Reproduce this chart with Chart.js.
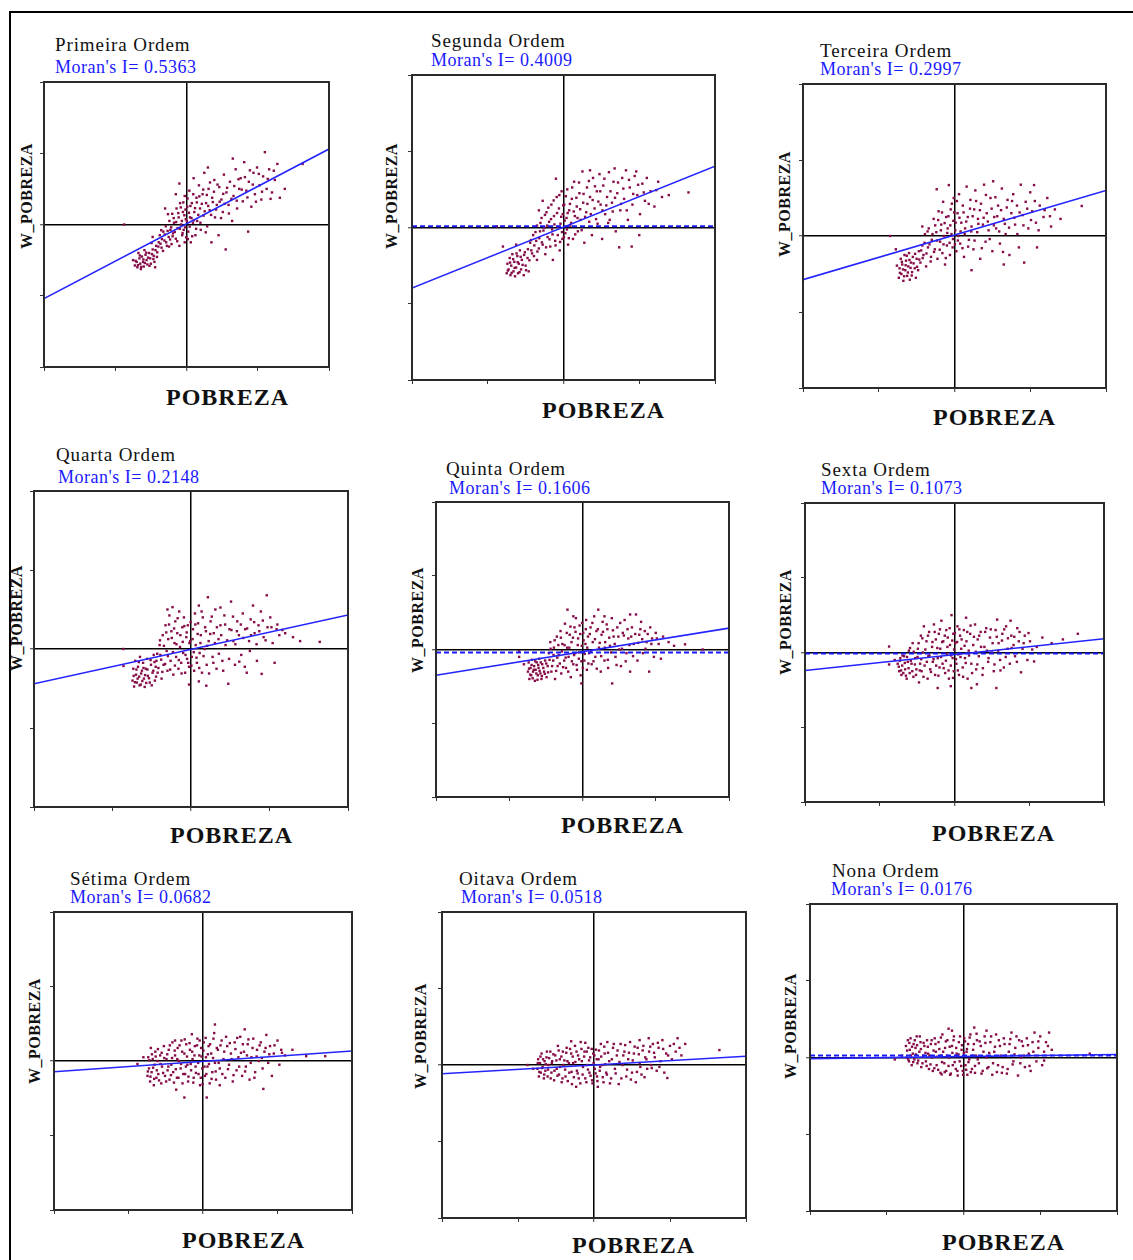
<!DOCTYPE html>
<html>
<head>
<meta charset="utf-8">
<script src="https://cdn.jsdelivr.net/npm/chart.js@4.4.1/dist/chart.umd.min.js"></script>
<style>
  body { margin: 0; background: #fff; width: 1133px; height: 1260px; position: relative; overflow: hidden;
         font-family: "Liberation Serif", "Times New Roman", serif; }
  #frame { position: absolute; left: 9px; top: 11px; width: 1140px; height: 1270px;
           border-top: 2px solid #000; border-left: 2px solid #000; }
  canvas { position: absolute; }
  .t { position: absolute; white-space: nowrap; line-height: 1; }
  .title { font-size: 19px; letter-spacing: 0.9px; color: #111; }
  .moran { font-size: 18px; letter-spacing: 0.5px; color: #1a1aff; }
  .xlab { font-size: 24px; font-weight: bold; letter-spacing: 1px; color: #111; }
  .ylab { font-size: 16px; font-weight: bold; letter-spacing: 0.5px; color: #111;
          transform: translate(-50%, -50%) rotate(-90deg); }
</style>
</head>
<body>
<div id="frame"></div>
<script>
// --- data (POBREZA vs W_POBREZA) ---
const orders = ['Primeira Ordem', 'Segunda Ordem', 'Terceira Ordem', 'Quarta Ordem', 'Quinta Ordem',
                'Sexta Ordem', 'Sétima Ordem', 'Oitava Ordem', 'Nona Ordem'];
const moranI = ['0.5363', '0.4009', '0.2997', '0.2148', '0.1606', '0.1073', '0.0682', '0.0518', '0.0176'];
const AX_MIN = -4, AX_MAX = 4;
// regression line height at the left / right edge of each panel
const fitLeft  = [-2.08, -1.59, -1.15, -0.88, -0.70, -0.48, -0.29, -0.23, -0.03];
const fitRight = [ 2.12,  1.61,  1.20,  0.86,  0.58,  0.37,  0.27,  0.23,  0.08];
// dashed reference line (only some panels have it)
const refLine = [null, 0.03, null, null, -0.08, -0.03, null, null, 0.05];

const ord1Pts = [[-1.45,-1.15],[-1.4,-1.05],[-1.38,-1.2],[-1.32,-0.95],[-1.3,-1.1],[-1.28,-1.25],[-1.25,-0.9],[-1.22,-1.05],[-1.2,-1.18],[-1.15,-0.85],[-1.12,-1.0],[-1.1,-1.12],[-1.05,-0.8],[-1.02,-0.95],[-1.0,-1.1],[-0.95,-0.7],[-0.92,-0.88],[-0.9,-1.05],[-0.85,-0.6],[-0.82,-0.78],[-1.5,-1.0],[-1.35,-0.8],[-1.18,-0.72],[-0.88,-1.2],
  [-0.78,-0.5],[-0.75,-0.3],[-0.7,-0.65],[-0.65,-0.2],[-0.62,-0.45],[-0.58,-0.05],[-0.55,-0.6],[-0.5,-0.35],[-0.48,0.1],[-0.45,-0.15],[-0.42,-0.55],[-0.4,0.3],[-0.38,-0.25],[-0.35,0.05],[-0.3,-0.4],[-0.28,0.45],[-0.25,-0.1],[-0.22,0.2],[-0.2,-0.6],[-0.18,0.6],[-0.15,0.0],[-0.12,-0.3],[-0.1,0.35],[-0.08,-0.15],[-0.05,0.8],[-0.05,-0.5],[-0.02,0.15],[-0.2,1.15],[-0.6,0.45],[-1.75,0.0],[-0.95,-0.35],[-0.3,0.85],
  [0.02,0.5],[0.05,-0.2],[0.08,0.95],[0.1,0.2],[0.12,-0.5],[0.15,0.6],[0.18,0.05],[0.2,1.3],[0.22,0.35],[0.25,-0.3],[0.28,0.75],[0.3,0.1],[0.35,1.1],[0.38,0.45],[0.4,-0.15],[0.45,0.85],[0.48,0.25],[0.5,1.45],[0.55,0.6],[0.58,-0.05],[0.62,1.0],[0.65,0.4],[0.7,-0.5],[0.72,0.75],[0.78,1.25],[0.8,0.2],[0.85,0.55],[0.9,-0.3],[0.92,1.05],[0.98,0.7],[1.02,0.35],[1.05,1.4],[1.1,-0.7],[1.12,0.9],[1.18,0.55],[1.22,1.2],[1.28,0.1],[1.32,0.8],[1.38,1.55],[1.42,0.45],[1.48,1.0],
  [1.52,1.3],[1.58,0.65],[1.62,1.75],[1.68,0.95],[1.73,-0.2],[1.75,1.2],[1.82,0.5],[1.88,1.45],[1.92,0.85],[1.98,1.6],[2.05,1.1],[2.1,0.7],[2.15,1.35],[2.2,2.03],[2.25,1.0],[2.32,1.55],[2.4,0.9],[2.48,1.25],[2.55,1.7],[2.62,0.75],[2.76,1.0],[3.26,1.7],[1.3,1.85],[0.6,1.6]];
const ord1Dense = [[-1.43,-1.02],[-1.36,-1.14],[-1.31,-0.87],[-1.27,-1.19],[-1.21,-0.98],[-1.17,-1.08],[-1.13,-0.79],[-1.08,-0.93],[-1.04,-1.16],[-0.97,-0.83],[-0.93,-0.97],[-0.87,-0.72],[-0.83,-0.91],[-0.79,-0.62],[-0.73,-0.54],[-0.69,-0.41],[-0.66,-0.74],[-0.61,-0.28],[-0.57,-0.5],[-0.53,-0.18],[-0.49,-0.62],[-0.46,-0.42],[-0.43,-0.08],[-0.39,-0.33],[-0.36,0.18],[-0.33,-0.21],[-0.29,0.07],[-0.26,-0.47],[-0.23,0.32],[-0.19,-0.12],[-0.16,0.48],[-0.13,0.1],[-0.11,-0.24],[-0.09,0.62],[-0.06,0.26],[-0.04,-0.08],[-0.03,0.42],[-0.01,-0.36],[0.01,0.09],[0.03,0.73],[0.04,-0.41],[0.07,0.33],[0.09,-0.06],[0.11,0.52],[0.14,0.18],[0.16,-0.33],[0.19,0.85],[0.21,0.12],[0.24,0.46],[0.27,-0.12],[0.29,0.62],[0.33,0.27],[0.36,0.79],[0.39,0.05],[0.43,0.58],[0.47,0.98],[0.51,0.37],[0.54,-0.22],[0.57,0.83],[0.61,0.52],[0.66,1.18],[0.69,0.27],[0.74,0.63],[0.77,0.92],[0.83,0.42],[0.87,1.12],[0.93,0.64],[0.97,0.18],[1.03,0.86],[1.07,0.58],[1.14,1.03],[1.19,0.31],[1.26,0.72],[1.34,1.08],[1.41,0.67],[1.46,1.27],[1.55,0.98],[1.64,1.33],[1.71,0.76],[1.78,1.52],[1.86,1.12],[1.95,0.64],[2.03,1.42],[2.12,0.92],[2.28,1.28],[2.36,0.72],[2.45,1.51],[-0.52,0.29],[-0.71,-0.16],[-0.98,-0.52]];

const ord2Pts = [[-1.5,-1.2],[-1.48,-0.95],[-1.45,-1.1],[-1.42,-0.8],[-1.4,-1.25],[-1.38,-1.0],[-1.35,-0.7],[-1.32,-1.15],[-1.3,-0.9],[-1.28,-1.28],[-1.25,-1.05],[-1.22,-0.75],[-1.2,-1.2],[-1.18,-0.95],[-1.15,-0.6],[-1.12,-1.1],[-1.1,-0.85],[-1.05,-1.25],[-1.02,-0.65],[-1.0,-1.0],[-0.95,-0.8],[-0.92,-1.15],[-1.76,0.03],[-1.6,-0.5],
  [-0.88,-0.4],[-0.85,-0.6],[-0.8,-0.2],[-0.78,-0.75],[-0.72,-0.35],[-0.7,0.05],[-0.65,-0.55],[-0.62,-0.1],[-0.58,0.25],[-0.55,-0.45],[-0.5,0.0],[-0.48,-0.7],[-0.45,0.4],[-0.42,-0.25],[-0.38,0.15],[-0.35,-0.5],[-0.32,0.6],[-0.3,-0.05],[-0.25,0.3],[-0.22,-0.35],[-0.2,1.28],[-0.18,0.8],[-0.15,-0.2],[-0.12,0.5],[-0.1,-0.6],[-0.08,0.1],[-0.05,0.95],[-0.03,-0.3],[-0.02,0.35],[-0.55,0.7],[-0.7,-0.85],[-0.28,-0.85],
  [0.02,0.6],[0.05,-0.15],[0.08,0.25],[0.1,1.0],[0.12,-0.45],[0.15,0.45],[0.18,0.05],[0.22,0.75],[0.25,-0.3],[0.28,1.2],[0.3,0.3],[0.35,0.55],[0.38,-0.1],[0.42,0.9],[0.45,0.2],[0.5,1.47],[0.52,0.65],[0.55,-0.4],[0.6,0.4],[0.62,1.05],[0.68,0.15],[0.7,0.8],[0.75,-0.2],[0.78,1.3],[0.82,0.5],[0.88,0.95],[0.9,0.1],[0.95,1.4],[0.98,0.6],[1.02,-0.3],[1.05,1.1],[1.1,0.35],[1.15,0.8],[1.2,1.45],[1.22,0.2],[1.28,0.65],[1.32,1.2],[1.38,-0.1],[1.42,0.9],[1.47,-0.52],
  [1.5,0.45],[1.55,1.3],[1.6,0.75],[1.65,1.5],[1.7,0.2],[1.75,1.05],[1.8,-0.5],[1.82,0.6],[1.88,1.35],[1.92,1.47],[1.95,0.85],[2.02,0.35],[2.08,1.15],[2.15,0.7],[2.2,1.3],[2.3,0.95],[2.4,0.55],[2.5,1.2],[2.6,0.8],[2.78,0.85],[3.3,0.92],[2.0,-0.2],[1.35,1.55],[0.7,1.5]];
const ord2Dense = [[-1.47,-1.13],[-1.41,-0.92],[-1.37,-1.19],[-1.33,-0.83],[-1.29,-1.06],[-1.24,-0.68],[-1.21,-0.91],[-1.16,-1.17],[-1.13,-0.77],[-1.08,-0.98],[-1.04,-0.72],[-0.99,-1.12],[-0.94,-0.57],[-0.9,-0.86],[-0.86,-0.33],[-0.83,-0.68],[-0.77,-0.47],[-0.74,-0.12],[-0.69,-0.63],[-0.64,-0.28],[-0.61,0.12],[-0.57,-0.39],[-0.53,-0.08],[-0.49,0.33],[-0.46,-0.52],[-0.43,0.05],[-0.4,0.52],[-0.37,-0.31],[-0.33,0.22],[-0.29,-0.18],[-0.26,0.71],[-0.24,0.08],[-0.21,-0.47],[-0.17,0.38],[-0.14,0.02],[-0.11,0.85],[-0.09,-0.38],[-0.06,0.28],[-0.04,-0.12],[-0.01,0.58],[0.01,-0.25],[0.03,0.18],[0.06,0.82],[0.09,-0.05],[0.11,0.38],[0.14,-0.28],[0.17,0.62],[0.2,0.12],[0.23,1.05],[0.27,0.42],[0.31,-0.18],[0.34,0.78],[0.37,0.25],[0.41,1.18],[0.44,0.48],[0.48,-0.07],[0.53,0.88],[0.57,0.28],[0.63,0.62],[0.67,1.22],[0.72,0.35],[0.77,0.72],[0.83,1.08],[0.86,0.22],[0.92,0.68],[0.97,0.95],[1.03,0.45],[1.08,1.28],[1.13,0.58],[1.18,0.12],[1.24,0.95],[1.3,0.42],[1.36,0.78],[1.44,1.18],[1.52,0.62],[1.58,1.02],[1.67,0.45],[1.73,1.25],[1.84,0.88],[1.97,1.12],[2.12,0.92],[2.25,0.62],[2.45,0.98],[-0.65,0.45],[-1.25,-0.45]];

const ord3Pts = [[-1.47,-1.1],[-1.45,-0.85],[-1.42,-0.6],[-1.4,-1.0],[-1.38,-0.75],[-1.35,-1.18],[-1.32,-0.5],[-1.3,-0.9],[-1.28,-0.65],[-1.25,-1.05],[-1.22,-0.8],[-1.2,-0.45],[-1.18,-1.15],[-1.15,-0.7],[-1.12,-0.95],[-1.1,-0.55],[-1.05,-0.85],[-1.02,-1.1],[-1.0,-0.6],[-0.96,-0.9],[-0.94,-0.4],[-1.7,0.0],[-1.55,-0.35],
  [-0.9,-0.7],[-0.85,-0.25],[-0.82,-0.5],[-0.78,0.05],[-0.75,-0.8],[-0.7,-0.3],[-0.68,0.2],[-0.62,-0.55],[-0.6,-0.1],[-0.55,0.45],[-0.52,-0.35],[-0.48,0.1],[-0.47,1.23],[-0.45,-0.6],[-0.42,0.65],[-0.38,-0.15],[-0.35,0.3],[-0.32,-0.45],[-0.3,0.9],[-0.28,0.0],[-0.25,-0.75],[-0.22,0.5],[-0.2,-0.25],[-0.18,0.2],[-0.15,1.34],[-0.12,-0.5],[-0.1,0.7],[-0.08,0.05],[-0.05,-0.3],[-0.03,0.4],[-0.02,1.0],
  [0.02,0.15],[0.05,-0.4],[0.08,0.6],[0.1,0.0],[0.12,1.1],[0.15,-0.2],[0.18,0.35],[0.22,0.8],[0.25,-0.55],[0.28,0.2],[0.32,1.3],[0.35,0.5],[0.38,-0.1],[0.42,0.95],[0.45,0.25],[0.5,-0.35],[0.52,0.7],[0.55,1.2],[0.6,0.1],[0.62,0.45],[0.68,-0.6],[0.7,0.85],[0.75,0.3],[0.78,1.35],[0.82,-0.15],[0.85,0.6],[0.9,0.15],[0.95,1.0],[1.0,-0.4],[1.02,1.44],[1.05,0.5],[1.1,0.2],[1.15,0.8],[1.2,-0.2],[1.25,1.25],[1.3,0.45],[1.35,0.05],[1.4,0.95],[1.45,-0.5],[1.5,0.6],
  [1.55,1.1],[1.6,0.3],[1.65,0.8],[1.7,-0.3],[1.75,1.35],[1.8,0.55],[1.84,-0.7],[1.88,0.9],[1.95,0.2],[2.0,1.15],[2.05,0.65],[2.1,1.34],[2.15,0.35],[2.18,-0.3],[2.25,0.8],[2.35,0.5],[2.45,1.0],[2.55,0.25],[2.65,0.7],[2.8,0.45],[3.36,0.79],[1.3,-0.75],[0.45,-0.9]];
const ord3Dense = [[-1.44,-0.97],[-1.39,-0.68],[-1.36,-0.88],[-1.33,-1.06],[-1.29,-0.77],[-1.26,-0.52],[-1.23,-0.96],[-1.19,-0.63],[-1.16,-0.84],[-1.13,-1.04],[-1.08,-0.72],[-1.04,-0.47],[-0.99,-0.81],[-0.93,-0.62],[-0.88,-0.38],[-0.84,-0.58],[-0.79,-0.18],[-0.74,-0.46],[-0.71,0.12],[-0.66,-0.22],[-0.63,-0.67],[-0.58,0.05],[-0.54,-0.42],[-0.51,0.28],[-0.46,-0.12],[-0.43,0.42],[-0.39,-0.36],[-0.36,0.15],[-0.33,0.62],[-0.29,-0.22],[-0.26,0.34],[-0.23,-0.58],[-0.19,0.08],[-0.16,0.52],[-0.13,-0.18],[-0.11,0.28],[-0.07,0.85],[-0.04,-0.08],[-0.01,0.62],[0.01,-0.22],[0.03,0.35],[0.06,0.92],[0.09,-0.12],[0.13,0.48],[0.16,0.12],[0.21,-0.32],[0.24,0.62],[0.27,0.05],[0.31,0.38],[0.36,-0.28],[0.41,0.72],[0.44,0.12],[0.48,0.52],[0.53,-0.12],[0.57,0.92],[0.63,0.32],[0.67,0.68],[0.72,-0.32],[0.77,0.48],[0.83,1.08],[0.88,0.38],[0.93,-0.08],[0.98,0.72],[1.04,0.28],[1.08,1.02],[1.13,0.52],[1.18,0.12],[1.23,0.68],[1.28,-0.42],[1.33,0.32],[1.38,0.75],[1.44,0.22],[1.52,0.92],[1.58,0.48],[1.66,0.05],[1.72,0.62],[1.82,0.28],[1.92,0.72],[2.02,0.42],[2.12,0.92],[2.22,0.15],[2.38,0.68],[2.52,0.52],[-1.52,-0.78],[-0.85,0.25]];

const ord4Pts = [[-1.49,-0.8],[-1.47,-0.5],[-1.45,-0.95],[-1.42,-0.3],[-1.4,-0.65],[-1.38,-0.85],[-1.35,-0.45],[-1.32,-0.7],[-1.3,-0.2],[-1.28,-0.9],[-1.25,-0.55],[-1.22,-0.35],[-1.2,-0.75],[-1.18,-0.96],[-1.15,-0.5],[-1.12,-0.25],[-1.1,-0.68],[-1.05,-0.85],[-1.02,-0.4],[-0.98,-0.6],[-0.95,-0.15],[-0.92,-0.8],[-0.9,-0.45],[-1.72,0.0],[-1.72,-0.43],
  [-0.88,-0.3],[-0.85,-0.6],[-0.8,0.1],[-0.78,-0.15],[-0.75,-0.75],[-0.72,0.35],[-0.7,-0.4],[-0.65,0.6],[-0.62,-0.05],[-0.6,-0.55],[-0.58,0.25],[-0.55,0.85],[-0.52,-0.3],[-0.5,0.45],[-0.47,1.06],[-0.45,-0.65],[-0.42,0.15],[-0.4,0.7],[-0.38,-0.2],[-0.35,0.4],[-0.32,-0.5],[-0.3,0.95],[-0.28,0.05],[-0.25,-0.35],[-0.22,0.55],[-0.2,-0.1],[-0.18,0.8],[-0.15,-0.6],[-0.12,0.3],[-0.1,-0.25],[-0.08,0.6],[-0.05,-0.45],[-0.05,-0.9],[-0.02,0.2],
  [0.02,-0.2],[0.05,0.5],[0.08,-0.55],[0.1,0.9],[0.12,0.1],[0.15,-0.35],[0.18,0.65],[0.2,1.1],[0.22,-0.1],[0.25,0.35],[0.28,-0.6],[0.3,0.8],[0.35,0.0],[0.38,0.45],[0.4,-0.4],[0.43,1.31],[0.45,0.2],[0.39,-0.93],[0.5,0.7],[0.55,-0.2],[0.58,0.4],[0.62,1.0],[0.65,-0.5],[0.7,0.25],[0.75,0.6],[0.8,-0.3],[0.85,0.85],[0.88,0.1],[0.95,-0.88],[0.98,0.5],[1.02,1.2],[1.08,0.2],[1.12,-0.4],[1.18,0.7],[1.22,0.35],[1.28,-0.15],[1.32,0.9],[1.38,0.5],[1.42,-0.6],[1.48,0.2],
  [1.52,0.75],[1.58,1.1],[1.62,0.4],[1.68,-0.3],[1.72,0.6],[1.78,0.95],[1.8,-0.63],[1.85,0.3],[1.93,1.36],[1.95,0.55],[2.02,0.8],[2.08,0.15],[2.13,-0.35],[2.18,0.5],[2.25,0.35],[2.4,0.4],[2.6,0.3],[2.78,0.2],[3.28,0.18],[1.5,-0.05],[0.75,1.05]];
const ord4Dense = [[-1.46,-0.68],[-1.43,-0.84],[-1.39,-0.52],[-1.36,-0.75],[-1.33,-0.33],[-1.31,-0.92],[-1.27,-0.62],[-1.24,-0.81],[-1.21,-0.48],[-1.17,-0.66],[-1.14,-0.86],[-1.11,-0.52],[-1.07,-0.74],[-1.03,-0.28],[-1.0,-0.92],[-0.96,-0.55],[-0.93,-0.33],[-0.89,-0.7],[-0.86,-0.12],[-0.83,-0.48],[-0.79,0.22],[-0.76,-0.27],[-0.73,-0.58],[-0.69,0.08],[-0.66,-0.38],[-0.63,0.42],[-0.59,-0.18],[-0.56,0.62],[-0.53,-0.52],[-0.49,0.28],[-0.46,-0.08],[-0.43,0.52],[-0.41,-0.42],[-0.37,0.12],[-0.34,0.78],[-0.31,-0.28],[-0.27,0.35],[-0.24,-0.62],[-0.21,0.18],[-0.17,0.58],[-0.14,-0.15],[-0.11,0.42],[-0.07,-0.35],[-0.04,0.15],[-0.01,0.68],[0.01,-0.42],[0.04,0.25],[0.07,-0.08],[0.11,0.62],[0.14,-0.22],[0.17,0.38],[0.21,-0.48],[0.24,0.15],[0.27,0.95],[0.32,-0.18],[0.36,0.55],[0.41,0.08],[0.46,-0.62],[0.49,0.38],[0.53,0.82],[0.57,-0.35],[0.61,0.15],[0.66,0.55],[0.71,-0.12],[0.77,0.35],[0.82,-0.55],[0.87,0.62],[0.92,0.22],[0.97,-0.25],[1.03,0.48],[1.07,0.82],[1.13,0.12],[1.17,0.45],[1.23,-0.32],[1.27,0.62],[1.33,0.28],[1.37,-0.45],[1.43,0.52],[1.53,0.35],[1.61,0.68],[1.67,0.12],[1.74,0.45],[1.83,0.72],[1.9,0.22],[2.05,0.55],[2.2,0.62],[2.33,0.48],[-0.6,1.0],[0.2,-0.82]];

const ord5Pts = [[-1.49,-0.6],[-1.47,-0.35],[-1.45,-0.8],[-1.42,-0.5],[-1.4,-0.7],[-1.38,-0.28],[-1.35,-0.6],[-1.32,-0.45],[-1.3,-0.85],[-1.28,-0.55],[-1.25,-0.35],[-1.22,-0.7],[-1.2,-0.5],[-1.18,-0.25],[-1.15,-0.65],[-1.12,-0.8],[-1.1,-0.4],[-1.05,-0.6],[-1.02,-0.3],[-0.98,-0.75],[-1.73,-0.05],[-1.73,-0.2],[-1.6,-0.4],
  [-0.95,-0.45],[-0.92,-0.1],[-0.88,0.2],[-0.85,-0.6],[-0.8,-0.3],[-0.78,0.05],[-0.75,-0.8],[-0.7,0.35],[-0.68,-0.45],[-0.65,-0.15],[-0.6,0.5],[-0.58,-0.65],[-0.55,0.15],[-0.5,-0.3],[-0.48,0.7],[-0.45,-0.5],[-0.42,0.05],[-0.41,1.08],[-0.38,-0.2],[-0.35,0.4],[-0.32,-0.75],[-0.3,0.2],[-0.25,-0.4],[-0.22,0.6],[-0.2,-0.1],[-0.18,0.85],[-0.15,-0.55],[-0.12,0.3],[-0.1,-0.25],[-0.08,0.65],[-0.05,-0.7],[-0.03,-0.92],[-0.02,0.1],
  [0.02,0.45],[0.05,-0.3],[0.08,0.15],[0.1,0.8],[0.12,-0.55],[0.15,0.35],[0.18,-0.1],[0.22,0.6],[0.25,-0.4],[0.28,0.2],[0.32,0.9],[0.35,-0.2],[0.38,0.5],[0.43,1.08],[0.45,0.05],[0.5,-0.6],[0.52,0.4],[0.55,0.75],[0.6,-0.3],[0.62,0.2],[0.68,0.55],[0.7,-0.5],[0.75,0.1],[0.8,0.85],[0.81,-0.92],[0.85,0.35],[0.9,-0.2],[0.95,0.6],[1.0,0.0],[1.05,-0.45],[1.1,0.45],[1.15,0.8],[1.2,-0.1],[1.25,0.3],[1.3,-0.6],[1.35,0.6],[1.4,0.15],[1.46,0.95],[1.5,-0.3],
  [1.55,0.4],[1.6,0.75],[1.65,-0.1],[1.7,0.5],[1.75,0.2],[1.82,-0.6],[1.85,0.6],[1.9,0.3],[1.95,-0.2],[2.0,0.45],[2.08,0.15],[2.14,-0.25],[2.2,0.35],[2.35,0.2],[2.5,0.1],[2.8,0.14],[3.28,0.0],[1.3,0.95]];
const ord5Dense = [[-1.46,-0.52],[-1.43,-0.68],[-1.39,-0.42],[-1.36,-0.78],[-1.33,-0.55],[-1.29,-0.32],[-1.26,-0.65],[-1.23,-0.82],[-1.21,-0.42],[-1.17,-0.58],[-1.14,-0.35],[-1.11,-0.72],[-1.07,-0.5],[-1.03,-0.66],[-0.99,-0.38],[-0.94,-0.62],[-0.9,-0.28],[-0.87,0.02],[-0.83,-0.45],[-0.79,-0.15],[-0.76,0.25],[-0.72,-0.58],[-0.69,-0.22],[-0.66,0.12],[-0.62,-0.38],[-0.59,0.32],[-0.56,-0.05],[-0.53,-0.48],[-0.49,0.12],[-0.46,-0.22],[-0.43,0.45],[-0.39,-0.6],[-0.36,0.05],[-0.33,0.62],[-0.29,-0.32],[-0.26,0.32],[-0.23,-0.15],[-0.19,0.48],[-0.16,-0.42],[-0.13,0.12],[-0.09,-0.08],[-0.06,0.42],[-0.03,-0.32],[-0.01,0.72],[0.01,-0.5],[0.03,0.25],[0.06,-0.12],[0.09,0.55],[0.13,0.05],[0.16,-0.38],[0.2,0.42],[0.23,-0.05],[0.27,0.72],[0.3,-0.32],[0.34,0.28],[0.39,-0.52],[0.42,0.55],[0.47,0.18],[0.51,-0.18],[0.56,0.48],[0.61,0.05],[0.66,0.68],[0.69,-0.28],[0.73,0.32],[0.78,-0.08],[0.83,0.52],[0.88,0.15],[0.93,-0.42],[0.98,0.35],[1.03,0.72],[1.08,0.02],[1.13,0.38],[1.18,-0.32],[1.23,0.55],[1.28,0.12],[1.33,0.35],[1.38,-0.18],[1.44,0.42],[1.52,0.18],[1.58,0.55],[1.63,0.28],[1.72,0.02],[1.78,0.42],[1.88,0.15],[2.03,0.3],[-0.25,0.9],[0.6,0.9]];

const ord6Pts = [[-1.52,-0.3],[-1.48,-0.5],[-1.45,-0.15],[-1.42,-0.6],[-1.4,-0.35],[-1.35,-0.1],[-1.32,-0.45],[-1.28,-0.7],[-1.25,-0.25],[-1.22,0.05],[-1.2,-0.55],[-1.15,-0.3],[-1.12,0.25],[-1.1,-0.65],[-1.05,-0.15],[-1.02,-0.45],[-0.98,0.1],[-0.95,-0.8],[-0.92,-0.3],[-0.9,0.45],[-1.75,0.16],[-1.75,-0.32],[-1.6,-0.2],
  [-0.88,-0.5],[-0.85,0.0],[-0.82,0.7],[-0.8,-0.35],[-0.75,0.3],[-0.72,-0.7],[-0.7,-0.1],[-0.68,0.55],[-0.65,-0.45],[-0.6,0.15],[-0.58,-0.25],[-0.55,0.75],[-0.52,-0.6],[-0.5,0.35],[-0.45,-0.95],[-0.45,-0.15],[-0.42,0.5],[-0.4,-0.4],[-0.38,0.1],[-0.35,0.85],[-0.32,-0.3],[-0.3,0.3],[-0.25,-0.55],[-0.22,0.6],[-0.2,-0.05],[-0.18,0.4],[-0.15,-0.7],[-0.12,0.2],[-0.1,-0.35],[-0.08,1.0],[-0.05,-0.15],[-0.03,0.5],[-0.02,-0.5],
  [0.02,0.25],[0.05,-0.3],[0.08,0.7],[0.1,-0.05],[0.12,-0.6],[0.15,0.45],[0.18,0.1],[0.22,-0.4],[0.25,0.6],[0.28,-0.15],[0.31,0.93],[0.32,0.3],[0.35,-0.7],[0.38,0.05],[0.42,0.5],[0.45,-0.95],[0.45,-0.3],[0.5,0.2],[0.55,0.75],[0.58,-0.45],[0.62,0.35],[0.65,-0.1],[0.7,0.55],[0.75,-0.6],[0.8,0.15],[0.85,0.65],[0.9,-0.25],[0.95,0.4],[1.0,0.0],[1.05,-0.5],[1.1,0.6],[1.14,0.88],[1.12,-0.95],[1.18,0.25],[1.22,-0.2],[1.28,0.5],[1.32,-0.4],[1.38,0.7],[1.42,0.1],[1.48,-0.3],
  [1.52,0.45],[1.58,0.2],[1.62,-0.1],[1.68,0.65],[1.72,0.3],[1.78,-0.53],[1.82,0.1],[1.88,0.45],[1.95,-0.2],[2.02,0.3],[2.13,-0.24],[2.2,0.15],[2.35,0.4],[2.6,0.25],[3.3,0.5],[1.5,0.85],[2.9,0.35]];
const ord6Dense = [[-1.49,-0.38],[-1.46,-0.22],[-1.43,-0.48],[-1.39,-0.08],[-1.37,-0.55],[-1.33,-0.28],[-1.3,-0.62],[-1.27,-0.12],[-1.23,-0.42],[-1.19,0.12],[-1.17,-0.22],[-1.13,-0.5],[-1.09,0.02],[-1.06,-0.32],[-1.03,-0.6],[-0.99,-0.12],[-0.96,0.25],[-0.93,-0.48],[-0.89,-0.18],[-0.86,0.38],[-0.83,-0.65],[-0.78,0.08],[-0.74,-0.25],[-0.71,0.45],[-0.67,-0.08],[-0.63,-0.52],[-0.59,0.28],[-0.56,-0.18],[-0.53,0.55],[-0.49,-0.35],[-0.46,0.12],[-0.43,-0.62],[-0.39,0.62],[-0.36,-0.12],[-0.33,0.28],[-0.29,-0.42],[-0.26,0.45],[-0.23,-0.22],[-0.19,0.15],[-0.16,-0.48],[-0.13,0.65],[-0.09,-0.08],[-0.06,0.32],[-0.04,-0.68],[-0.01,0.08],[0.01,0.52],[0.04,-0.18],[0.07,0.28],[0.09,-0.48],[0.13,0.62],[0.16,-0.12],[0.19,0.35],[0.23,-0.65],[0.27,0.18],[0.3,-0.28],[0.34,0.55],[0.39,-0.08],[0.43,0.72],[0.47,-0.55],[0.52,0.42],[0.57,0.02],[0.61,-0.32],[0.66,0.45],[0.71,0.15],[0.76,-0.42],[0.82,0.55],[0.87,0.05],[0.91,-0.15],[0.97,0.62],[1.02,0.25],[1.07,-0.32],[1.13,0.42],[1.17,0.05],[1.23,-0.48],[1.27,0.32],[1.33,0.62],[1.37,-0.12],[1.43,0.38],[1.53,0.12],[1.6,0.42],[1.67,-0.25],[1.74,0.55],[1.85,0.25],[1.98,0.52],[2.08,0.08],[-0.1,-0.9],[0.6,-0.85]];

const ord7Pts = [[-1.49,-0.4],[-1.47,0.1],[-1.45,-0.2],[-1.42,-0.55],[-1.4,0.35],[-1.38,-0.3],[-1.35,0.05],[-1.32,-0.65],[-1.3,-0.1],[-1.28,0.25],[-1.25,-0.45],[-1.22,0.0],[-1.2,-0.35],[-1.15,0.15],[-1.12,-0.6],[-1.1,-0.15],[-1.05,0.4],[-1.02,-0.4],[-0.98,0.05],[-0.95,-0.25],[-1.76,-0.08],[-1.6,0.1],
  [-0.92,0.3],[-0.9,-0.5],[-0.85,-0.1],[-0.82,0.5],[-0.8,-0.3],[-0.75,0.15],[-0.72,-0.77],[-0.7,-0.45],[-0.68,0.35],[-0.65,0.0],[-0.6,-0.2],[-0.58,0.55],[-0.55,-0.6],[-0.5,-0.98],[-0.5,0.2],[-0.48,-0.35],[-0.45,0.45],[-0.42,-0.1],[-0.4,-0.55],[-0.35,0.3],[-0.32,-0.25],[-0.3,0.72],[-0.28,0.05],[-0.25,-0.45],[-0.22,0.4],[-0.2,-0.15],[-0.15,0.6],[-0.12,-0.35],[-0.1,0.15],[-0.08,-0.65],[-0.05,0.35],[-0.02,-0.2],
  [0.02,0.5],[0.05,-0.4],[0.08,0.1],[0.1,-0.98],[0.12,-0.15],[0.15,0.4],[0.18,-0.6],[0.22,0.2],[0.25,-0.3],[0.28,0.6],[0.32,0.98],[0.32,-0.05],[0.35,-0.5],[0.4,0.3],[0.45,-0.2],[0.5,0.55],[0.55,0.05],[0.6,-0.45],[0.65,0.4],[0.7,-0.1],[0.75,0.2],[0.8,-0.55],[0.85,0.5],[0.9,-0.25],[0.95,0.1],[1.0,0.65],[1.05,-0.4],[1.12,0.85],[1.1,0.25],[1.15,-0.15],[1.2,0.45],[1.25,-0.5],[1.3,0.1],[1.35,0.6],[1.4,-0.3],[1.45,0.3],[1.5,0.0],
  [1.55,0.5],[1.6,-0.2],[1.65,0.25],[1.7,0.7],[1.75,-0.05],[1.8,0.4],[1.85,-0.4],[1.9,0.2],[2.0,0.55],[2.05,-0.1],[2.1,0.3],[2.2,0.15],[2.4,0.3],[2.77,0.13],[3.28,0.13],[1.62,-0.75]];
const ord7Dense = [[-1.48,-0.28],[-1.44,0.02],[-1.41,-0.42],[-1.37,0.18],[-1.34,-0.18],[-1.31,-0.48],[-1.27,0.12],[-1.24,-0.25],[-1.21,0.32],[-1.18,-0.52],[-1.14,-0.08],[-1.11,0.22],[-1.07,-0.32],[-1.04,0.08],[-0.99,-0.55],[-0.96,0.18],[-0.93,-0.15],[-0.89,0.42],[-0.86,-0.38],[-0.83,0.08],[-0.78,-0.58],[-0.76,0.28],[-0.73,-0.22],[-0.69,0.05],[-0.66,-0.45],[-0.63,0.42],[-0.59,-0.08],[-0.56,0.25],[-0.53,-0.35],[-0.49,0.58],[-0.46,-0.15],[-0.43,0.12],[-0.39,-0.42],[-0.36,0.48],[-0.33,-0.08],[-0.29,0.25],[-0.26,-0.58],[-0.23,0.15],[-0.19,-0.32],[-0.16,0.42],[-0.13,-0.05],[-0.09,0.55],[-0.06,-0.45],[-0.04,0.12],[-0.01,-0.62],[0.01,0.28],[0.04,-0.15],[0.07,0.62],[0.09,-0.35],[0.13,0.18],[0.16,-0.08],[0.19,0.45],[0.23,-0.48],[0.27,0.08],[0.3,0.75],[0.34,-0.28],[0.37,0.35],[0.42,-0.05],[0.47,0.42],[0.52,-0.35],[0.57,0.25],[0.62,0.65],[0.67,-0.22],[0.72,0.48],[0.77,0.05],[0.82,-0.38],[0.87,0.32],[0.92,0.62],[0.97,-0.15],[1.02,0.22],[1.07,0.45],[1.13,-0.28],[1.18,0.15],[1.22,0.58],[1.28,-0.05],[1.33,0.35],[1.38,-0.45],[1.44,0.12],[1.52,0.42],[1.58,0.08],[1.68,0.35],[1.78,0.18],[1.92,0.42],[2.12,0.22],[-0.75,0.55],[0.45,-0.65]];

const ord8Pts = [[-1.49,-0.1],[-1.47,0.15],[-1.45,-0.3],[-1.42,0.05],[-1.4,-0.2],[-1.38,0.3],[-1.35,-0.05],[-1.32,-0.35],[-1.3,0.1],[-1.28,-0.15],[-1.25,0.2],[-1.22,-0.3],[-1.2,0.0],[-1.15,0.35],[-1.12,-0.2],[-1.1,0.1],[-1.05,-0.4],[-1.02,0.25],[-0.98,-0.1],[-0.95,0.5],[-1.75,0.0],[-1.6,-0.1],
  [-0.92,-0.25],[-0.9,0.15],[-0.85,-0.45],[-0.82,0.35],[-0.8,0.0],[-0.75,-0.3],[-0.72,0.45],[-0.7,0.1],[-0.65,-0.2],[-0.6,0.3],[-0.58,-0.5],[-0.55,0.05],[-0.5,0.5],[-0.47,-0.57],[-0.45,-0.15],[-0.42,0.25],[-0.4,-0.35],[-0.35,0.6],[-0.32,0.1],[-0.3,-0.25],[-0.25,0.35],[-0.23,0.58],[-0.2,-0.45],[-0.18,0.0],[-0.15,0.45],[-0.12,-0.2],[-0.1,0.2],[-0.05,-0.4],[-0.02,0.3],
  [0.02,-0.1],[0.05,0.4],[0.08,-0.3],[0.1,-0.57],[0.12,0.15],[0.15,-0.15],[0.18,0.55],[0.22,0.0],[0.25,-0.45],[0.28,0.3],[0.32,-0.2],[0.35,0.6],[0.4,0.1],[0.45,-0.35],[0.5,0.45],[0.55,-0.1],[0.6,0.25],[0.65,-0.5],[0.7,0.55],[0.75,0.0],[0.8,0.35],[0.85,-0.3],[0.9,0.15],[0.95,0.6],[1.0,-0.2],[1.05,0.3],[1.1,-0.45],[1.15,0.45],[1.2,0.05],[1.25,-0.25],[1.3,0.5],[1.35,0.2],[1.44,0.7],[1.4,-0.1],[1.45,0.35],[1.5,0.0],
  [1.55,0.55],[1.6,0.2],[1.65,-0.15],[1.7,0.45],[1.75,0.1],[1.8,0.65],[1.85,-0.2],[1.93,-0.34],[1.9,0.3],[2.0,0.5],[2.05,0.15],[2.15,0.35],[2.2,0.7],[2.3,0.25],[2.4,0.55],[3.3,0.39],[1.2,0.65]];
const ord8Dense = [[-1.48,0.05],[-1.44,-0.18],[-1.41,0.22],[-1.37,-0.08],[-1.34,0.15],[-1.31,-0.25],[-1.27,0.02],[-1.24,0.35],[-1.21,-0.12],[-1.18,0.18],[-1.14,-0.35],[-1.11,0.05],[-1.07,0.28],[-1.04,-0.15],[-0.99,0.12],[-0.96,-0.28],[-0.93,0.38],[-0.89,-0.05],[-0.86,0.22],[-0.83,-0.35],[-0.78,0.12],[-0.76,-0.12],[-0.73,0.32],[-0.69,-0.42],[-0.66,0.05],[-0.63,0.42],[-0.59,-0.18],[-0.56,0.22],[-0.53,-0.32],[-0.49,0.08],[-0.46,0.35],[-0.43,-0.22],[-0.39,0.15],[-0.36,-0.48],[-0.33,0.42],[-0.29,-0.05],[-0.26,0.22],[-0.23,-0.35],[-0.19,0.35],[-0.16,-0.12],[-0.13,0.12],[-0.09,-0.28],[-0.06,0.42],[-0.04,-0.48],[-0.01,0.05],[0.01,0.25],[0.04,-0.22],[0.07,0.15],[0.09,-0.42],[0.13,0.38],[0.16,-0.05],[0.19,0.22],[0.23,-0.32],[0.27,0.48],[0.3,0.02],[0.34,-0.25],[0.37,0.32],[0.42,-0.48],[0.47,0.15],[0.52,0.55],[0.57,-0.22],[0.62,0.38],[0.67,0.08],[0.72,-0.35],[0.77,0.25],[0.82,0.52],[0.87,-0.12],[0.92,0.32],[0.97,-0.38],[1.02,0.12],[1.07,0.48],[1.13,-0.18],[1.18,0.28],[1.22,-0.05],[1.28,0.38],[1.33,-0.32],[1.38,0.15],[1.48,0.48],[1.52,-0.08],[1.58,0.32],[1.68,0.58],[1.72,-0.05],[1.82,0.42],[1.95,0.25],[2.1,0.55],[2.25,0.45],[-0.6,0.62]];

const ord9Pts = [[-1.5,0.3],[-1.48,0.0],[-1.45,0.45],[-1.42,-0.1],[-1.4,0.2],[-1.38,0.5],[-1.35,-0.2],[-1.32,0.1],[-1.3,0.35],[-1.28,-0.05],[-1.25,0.25],[-1.22,0.55],[-1.2,-0.15],[-1.15,0.15],[-1.12,0.4],[-1.1,-0.25],[-1.05,0.05],[-1.02,0.3],[-0.98,-0.1],[-0.95,0.45],[-1.79,-0.05],[-1.6,0.05],
  [-0.92,0.1],[-0.9,-0.3],[-0.85,0.35],[-0.82,0.0],[-0.8,-0.35],[-0.75,0.5],[-0.72,0.15],[-0.7,-0.2],[-0.65,0.4],[-0.6,-0.4],[-0.58,0.05],[-0.57,-0.44],[-0.55,0.6],[-0.5,-0.15],[-0.48,0.25],[-0.45,-0.35],[-0.42,0.45],[-0.39,0.75],[-0.38,0.0],[-0.35,-0.45],[-0.3,0.3],[-0.28,-0.2],[-0.25,0.55],[-0.2,-0.3],[-0.18,0.1],[-0.15,-0.47],[-0.12,0.4],[-0.1,-0.1],[-0.05,0.2],[-0.02,-0.35],
  [0.02,0.5],[0.05,-0.2],[0.08,0.15],[0.1,-0.45],[0.12,0.35],[0.15,-0.05],[0.18,0.6],[0.22,-0.3],[0.25,0.2],[0.28,0.78],[0.3,-0.4],[0.32,0.05],[0.35,0.45],[0.4,-0.15],[0.45,0.3],[0.5,-0.35],[0.55,0.55],[0.6,0.0],[0.65,-0.25],[0.7,0.4],[0.75,-0.45],[0.8,0.15],[0.85,0.6],[0.9,-0.2],[0.95,0.3],[1.0,-0.4],[1.05,0.5],[1.1,0.05],[1.15,-0.3],[1.2,0.35],[1.25,0.65],[1.3,-0.1],[1.35,0.25],[1.42,-0.47],[1.45,0.45],[1.5,0.0],
  [1.55,0.3],[1.6,-0.25],[1.65,0.5],[1.7,0.1],[1.75,-0.35],[1.8,0.4],[1.85,0.65],[1.9,-0.1],[1.95,0.25],[2.0,0.55],[2.05,-0.2],[2.1,0.15],[2.15,0.4],[2.23,0.65],[2.3,0.2],[3.29,0.1],[0.6,0.7]];
const ord9Dense = [[-1.47,0.18],[-1.44,-0.05],[-1.41,0.38],[-1.37,0.05],[-1.34,0.28],[-1.31,-0.12],[-1.27,0.45],[-1.24,0.08],[-1.21,0.32],[-1.18,-0.08],[-1.14,0.55],[-1.11,0.22],[-1.07,-0.15],[-1.04,0.38],[-0.99,0.12],[-0.96,-0.22],[-0.93,0.28],[-0.89,0.05],[-0.86,-0.18],[-0.83,0.45],[-0.78,0.18],[-0.76,-0.28],[-0.73,0.35],[-0.69,0.02],[-0.66,-0.32],[-0.63,0.22],[-0.59,0.52],[-0.56,-0.12],[-0.53,0.15],[-0.49,-0.38],[-0.46,0.42],[-0.43,0.05],[-0.39,-0.22],[-0.36,0.28],[-0.33,-0.42],[-0.29,0.12],[-0.26,0.45],[-0.23,-0.12],[-0.19,0.25],[-0.16,-0.35],[-0.13,0.08],[-0.09,0.55],[-0.06,-0.22],[-0.04,0.32],[-0.01,-0.45],[0.01,0.12],[0.04,0.42],[0.07,-0.32],[0.09,0.22],[0.13,-0.12],[0.16,0.52],[0.19,-0.38],[0.23,0.05],[0.27,0.35],[0.3,-0.22],[0.34,0.62],[0.37,-0.05],[0.42,0.42],[0.47,-0.42],[0.52,0.15],[0.57,0.38],[0.62,-0.28],[0.67,0.12],[0.72,0.55],[0.77,-0.15],[0.82,0.28],[0.87,-0.38],[0.92,0.45],[0.97,0.05],[1.02,-0.25],[1.07,0.35],[1.13,-0.42],[1.18,0.15],[1.22,0.48],[1.28,-0.18],[1.33,0.08],[1.38,0.55],[1.48,-0.15],[1.52,0.42],[1.58,0.05],[1.68,0.32],[1.72,-0.22],[1.82,0.15],[1.95,0.42],[2.1,-0.08],[2.2,0.3],[-0.3,0.7]];

const allPts = [ord1Pts.concat(ord1Dense), ord2Pts.concat(ord2Dense), ord3Pts.concat(ord3Dense),
                ord4Pts.concat(ord4Dense), ord5Pts.concat(ord5Dense), ord6Pts.concat(ord6Dense),
                ord7Pts.concat(ord7Dense), ord8Pts.concat(ord8Dense), ord9Pts.concat(ord9Dense)];

// --- page layout (pixels): plot box [left, top, right, bottom] and text anchors ---
const boxes = [[44,80,331,367],[412,73,717,380],[803,82,1108,388],
               [34,489,350,807],[436,500,731,797],[805,501,1106,802],
               [54,910,354,1210],[442,910,748,1218],[810,902,1119,1211]];
const titlePos = [[55,51],[431,47],[820,57],[56,461],[446,475],[821,476],[70,885],[459,885],[832,877]];
const moranPos = [[55,73],[431,66],[820,75],[58,483],[449,494],[821,494],[70,903],[461,903],[831,895]];
const xlabPos  = [[166,405],[542,418],[933,425],[170,843],[561,833],[932,841],[182,1248],[572,1253],[942,1250]];
const ylabPos  = [[27,196],[392,196],[785,204],[17,618],[418,620],[786,622],[35,1031],[421,1036],[791,1026]];

const POINT_COLOR = '#860c48';
const LINE_COLOR = '#2424ff';

function addText(cls, text, x, baseline, size) {
    const el = document.createElement('div');
    el.className = 't ' + cls;
    el.textContent = text;
    el.style.left = x + 'px';
    el.style.top = (baseline - 0.84 * size) + 'px';
    document.body.appendChild(el);
}

function addYLabel(cx, cy) {
    const el = document.createElement('div');
    el.className = 't ylab';
    el.textContent = 'W_POBREZA';
    el.style.left = cx + 'px';
    el.style.top = cy + 'px';
    document.body.appendChild(el);
}

const boxPlugin = {
    id: 'plotBox',
    afterDatasetsDraw(chart) {
        const a = chart.chartArea, c = chart.ctx;
        c.save();
        c.strokeStyle = '#2b2b2b';
        c.lineWidth = 2;
        c.strokeRect(a.left, a.top, a.right - a.left, a.bottom - a.top);
        c.restore();
    }
};

function axis(fitFn) {
    return {
        type: 'linear', min: AX_MIN, max: AX_MAX,
        ticks: { display: false, stepSize: 2 },
        grid: {
            drawOnChartArea: true, drawTicks: true, tickLength: 4,
            color: c => (c.tick && c.tick.value === 0) ? '#000' : 'rgba(0,0,0,0)',
            lineWidth: c => (c.tick && c.tick.value === 0) ? 1.5 : 1,
            tickColor: '#333', tickWidth: 1
        },
        border: { display: false },
        afterFit: fitFn
    };
}

function makePanel(i) {
    const [L, T, R, B] = boxes[i];
    const w = R - L + 8, h = B - T + 8;
    const cv = document.createElement('canvas');
    cv.width = w; cv.height = h;
    cv.style.left = (L - 6) + 'px';
    cv.style.top = (T - 2) + 'px';
    cv.style.width = w + 'px';
    cv.style.height = h + 'px';
    document.body.appendChild(cv);

    const datasets = [
        {
            data: allPts[i].map(p => ({ x: p[0], y: p[1] })),
            pointStyle: 'rect', pointRadius: 1.7, backgroundColor: POINT_COLOR,
            borderWidth: 0, order: 2
        },
        {
            data: [{ x: AX_MIN, y: fitLeft[i] }, { x: AX_MAX, y: fitRight[i] }],
            showLine: true, borderColor: LINE_COLOR, borderWidth: 1.6, pointRadius: 0, order: 0
        }
    ];
    if (refLine[i] !== null) {
        datasets.push({
            data: [{ x: AX_MIN, y: refLine[i] }, { x: AX_MAX, y: refLine[i] }],
            showLine: true, borderColor: '#1a1aff', borderWidth: 2, borderDash: [5, 3],
            pointRadius: 0, order: 1
        });
    }

    new Chart(cv, {
        type: 'scatter',
        data: { datasets },
        options: {
            responsive: false, animation: false, devicePixelRatio: 1, events: [],
            layout: { padding: { left: 0, top: 2, right: 2, bottom: 0 } },
            plugins: { legend: { display: false }, tooltip: { enabled: false } },
            scales: {
                x: axis(s => { s.height = 6; }),
                y: axis(s => { s.width = 6; })
            }
        },
        plugins: [boxPlugin]
    });

    addText('title', orders[i], titlePos[i][0], titlePos[i][1], 19);
    addText('moran', "Moran's I= " + moranI[i], moranPos[i][0], moranPos[i][1], 18);
    addText('xlab', 'POBREZA', xlabPos[i][0], xlabPos[i][1], 24);
    addYLabel(ylabPos[i][0], ylabPos[i][1]);
}

for (let i = 0; i < orders.length; i++) makePanel(i);
</script>
</body>
</html>
